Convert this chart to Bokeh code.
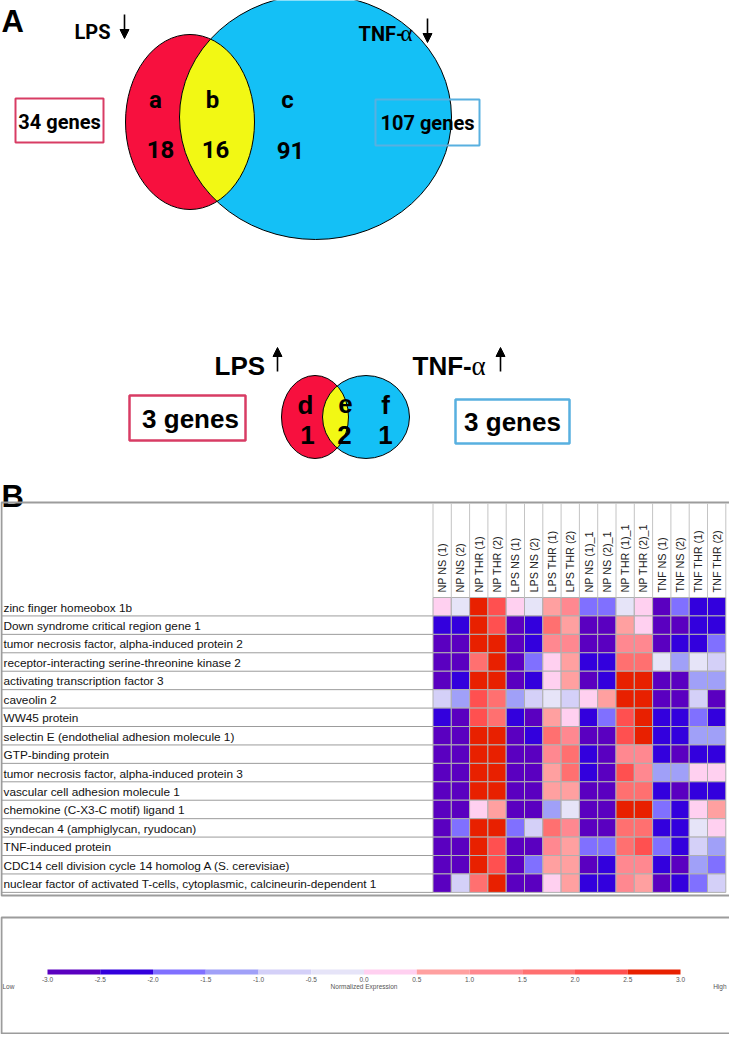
import numpy as np
from bokeh.plotting import figure
from bokeh.models import Range1d, ColumnDataSource, Arrow, NormalHead
from bokeh.core.properties import value
from bokeh.embed import file_html
from bokeh.resources import INLINE

# ---------------- data ----------------
down_regions = ["a", "b", "c"]
down_counts = ["18", "16", "91"]
down_totals = ["34 genes", "107 genes"]
up_regions = ["d", "e", "f"]
up_counts = ["1", "2", "1"]
up_totals = ["3 genes", "3 genes"]

samples = ["NP NS (1)", "NP NS (2)", "NP THR (1)", "NP THR (2)", "LPS NS (1)", "LPS NS (2)",
           "LPS THR (1)", "LPS THR (2)", "NP NS (1)_1", "NP NS (2)_1", "NP THR (1)_1",
           "NP THR (2)_1", "TNF NS (1)", "TNF NS (2)", "TNF THR (1)", "TNF THR (2)"]

genes = ["zinc finger homeobox 1b",
         "Down syndrome critical region gene 1",
         "tumor necrosis factor, alpha-induced protein 2",
         "receptor-interacting serine-threonine kinase 2",
         "activating transcription factor 3",
         "caveolin 2",
         "WW45 protein",
         "selectin E (endothelial adhesion molecule 1)",
         "GTP-binding protein",
         "tumor necrosis factor, alpha-induced protein 3",
         "vascular cell adhesion molecule 1",
         "chemokine (C-X3-C motif) ligand 1",
         "syndecan 4 (amphiglycan, ryudocan)",
         "TNF-induced protein",
         "CDC14 cell division cycle 14 homolog A (S. cerevisiae)",
         "nuclear factor of activated T-cells, cytoplasmic, calcineurin-dependent 1"]

expression = [
    [0.3, -0.3, 2.8, 2.2, 0.3, -0.3, 0.8, 1.2, -1.8, -1.8, -0.3, 0.3, -2.8, -1.8, -2.2, -2.2],
    [-2.2, -2.2, 2.8, 2.2, -2.8, -2.2, 1.8, 0.8, -2.8, -2.8, 0.8, 0.3, -2.8, -2.8, -2.2, -2.2],
    [-2.8, -2.8, 2.8, 2.8, -2.8, -2.2, 1.2, 1.2, -2.8, -2.8, 1.2, 1.2, -2.8, -2.2, -2.2, -1.8],
    [-2.8, -2.8, 1.8, 2.8, -2.8, -1.8, 0.3, 0.8, -2.2, -2.2, 1.8, 1.8, -0.3, -1.2, -0.3, -0.7],
    [-2.8, -2.2, 2.8, 2.8, -2.8, -2.2, 0.3, 0.8, -2.8, -2.2, 2.8, 2.8, -2.8, -2.8, -1.2, -1.2],
    [-0.7, -1.2, 2.2, 1.8, -1.2, -0.7, -0.3, -0.7, 0.3, 0.8, 2.8, 2.8, -2.8, -2.8, -0.7, -2.8],
    [-2.2, -2.8, 2.2, 1.8, -2.2, -2.8, 0.8, 0.3, -2.2, -1.8, 2.2, 2.8, -2.2, -2.2, -1.8, -2.2],
    [-2.8, -2.8, 2.8, 2.8, -2.8, -2.2, 1.8, 1.2, -2.8, -2.8, 2.2, 2.8, -2.2, -2.2, -1.2, -1.2],
    [-2.8, -2.8, 2.8, 2.8, -2.8, -2.8, 1.2, 1.8, -2.2, -2.8, 1.2, 1.2, -2.2, -2.8, -2.2, -2.2],
    [-2.8, -2.8, 2.8, 2.8, -2.8, -2.8, 0.8, 1.8, -2.2, -2.8, 2.2, 1.2, -1.2, -1.2, 0.3, 0.3],
    [-2.8, -2.8, 2.8, 2.8, -2.8, -2.8, 0.8, 0.8, -2.8, -2.8, 1.8, 1.8, -2.2, -2.8, -2.2, -2.2],
    [-2.8, -2.8, 0.3, 0.8, -2.8, -2.8, -1.2, -0.3, -2.8, -2.8, 2.8, 2.8, -1.8, -2.2, 0.3, 0.8],
    [-2.8, -1.8, 2.8, 2.8, -1.8, -0.7, 1.8, 1.2, -2.8, -2.8, 1.8, 1.8, -2.2, -2.2, -0.3, 0.3],
    [-2.8, -2.8, 2.8, 2.2, -2.8, -2.8, 1.2, 0.8, -1.8, -1.8, 1.8, 2.2, -1.8, -2.2, -0.7, -1.2],
    [-2.8, -2.8, 2.8, 2.2, -2.8, -1.8, 0.8, 0.8, -2.8, -2.2, 1.2, 1.2, -2.2, -2.8, -1.2, -1.8],
    [-2.8, -0.7, 1.8, 2.8, -2.8, -2.8, 0.3, 0.8, -2.2, -2.2, 1.2, 0.8, -2.8, -2.2, -1.8, -0.7],
]

scale_edges = [-3.0, -2.5, -2.0, -1.5, -1.0, -0.5, 0.0, 0.5, 1.0, 1.5, 2.0, 2.5, 3.0]
scale_colors = ["#5a00c0", "#3300dd", "#8070ff", "#a0a0f8", "#d4d0f8", "#e6e4f8",
                "#ffd0f0", "#ffa0a0", "#ff8890", "#ff7070", "#ff5050", "#e82000"]
scale_end_labels = ["Low", "High"]
scale_title = "Normalized Expression"

# ---------------- figure (page-pixel coordinates) ----------------
W, H = 729, 1034
p = figure(width=W, height=H, x_range=Range1d(8, 8 + W), y_range=Range1d(8 + H, 8),
           x_axis_type=None, y_axis_type=None, output_backend="svg",
           toolbar_location=None, min_border=0)
p.grid.visible = False
p.outline_line_color = None
p.background_fill_color = "white"
p.border_fill_color = "white"

# heatmap geometry (page px)
HX0, CW = 440.5, 18.3
HY0, RH = 605.0, 18.43
def hx(px):
    return (px - HX0) / CW - 0.5
def hy(py):
    return (py - HY0) / RH - 0.5
# colour-scale geometry
CB0, CBW = 55.0, (688.0 - 55.0) / 6.0
def cbx(px):
    return -3.0 + (px - CB0) / CBW

p.extra_x_ranges = {"hm_x": Range1d(hx(8), hx(8 + W)), "cb_x": Range1d(cbx(8), cbx(8 + W))}
p.extra_y_ranges = {"hm_y": Range1d(hy(8 + H), hy(8))}

RED, YEL, BLU = "#f7103e", "#f2f814", "#14c0f6"
PINKBOX, BLUEBOX = "#d83c64", "#58b0e0"
COND = value("Roboto")
SANS = value("Liberation Sans")

def venn(c1, c2):
    (cx1, cy1, w1, h1), (cx2, cy2, w2, h2) = c1, c2
    p.ellipse(x=[cx1], y=[cy1], width=w1, height=h1, fill_color=RED, line_color=None)
    p.ellipse(x=[cx2], y=[cy2], width=w2, height=h2, fill_color=BLU, line_color=None)
    t = np.linspace(0, 2 * np.pi, 1440, endpoint=False)
    x1 = cx1 + w1 / 2 * np.cos(t); y1 = cy1 + h1 / 2 * np.sin(t)
    x2 = cx2 + w2 / 2 * np.cos(t); y2 = cy2 + h2 / 2 * np.sin(t)
    in1 = ((x2 - cx1) / (w1 / 2)) ** 2 + ((y2 - cy1) / (h1 / 2)) ** 2 <= 1
    in2 = ((x1 - cx2) / (w2 / 2)) ** 2 + ((y1 - cy2) / (h2 / 2)) ** 2 <= 1
    lx = np.concatenate([x1[in2], x2[in1]]); ly = np.concatenate([y1[in2], y2[in1]])
    order = np.argsort(np.arctan2(ly - ly.mean(), lx - lx.mean()))
    p.patch(lx[order], ly[order], fill_color=YEL, line_color=None)
    p.ellipse(x=[cx1, cx2], y=[cy1, cy2], width=[w1, w2], height=[h1, h2],
              fill_color=None, line_color="black", line_width=1)

def txt(x, y, t, size, font=SANS, style="bold", align="center", baseline="middle",
        color="black", **kw):
    p.text(x=x, y=y, text=t, text_font=font, text_font_style=style, text_font_size=size,
           text_align=align, text_baseline=baseline, text_color=color, **kw)

# ---------------- panel A ----------------
txt([9], [29], ["A"], "31px", align="left", baseline="alphabetic")

venn((197.5, 129.5, 129, 175), (323.0, 124.5, 272, 245))
txt([163, 220, 295], [107, 107, 107], down_regions, "24px", font=COND)
txt([168, 223, 298], [157, 157, 158], down_counts, "24px", font=COND)
p.quad(left=[23], right=[111], top=[106], bottom=[150], fill_color=None,
       line_color=PINKBOX, line_width=2)
p.quad(left=[383], right=[487], top=[107], bottom=[153], fill_color=None,
       line_color=BLUEBOX, line_width=2)
txt([67, 435], [129, 130], down_totals, "20px", font=COND)
txt([82], [39], ["LPS"], "20px", font=COND, align="left", baseline="alphabetic")
txt([366], [41], ["TNF-"], "20px", font=COND, align="left", baseline="alphabetic")
txt([408], [41], ["α"], "23px", font=value("Liberation Serif"), style="normal",
    align="left", baseline="alphabetic")
for ax, y0, y1 in [(132, 22, 46), (435, 26, 50)]:
    p.add_layout(Arrow(end=NormalHead(size=9, fill_color="black", line_color="black"),
                       x_start=ax, y_start=y0, x_end=ax, y_end=y1, line_width=1.6))

# small Venn (up-regulated)
venn((322.5, 424.5, 67, 83), (373.5, 424.5, 87, 83))
txt([313, 353, 393], [412, 411, 412], up_regions, "26px")
txt([315, 352, 393], [442, 442, 442], up_counts, "26px")
p.quad(left=[137], right=[253], top=[403], bottom=[448], fill_color=None,
       line_color=PINKBOX, line_width=2.5)
p.quad(left=[463], right=[577], top=[407], bottom=[451], fill_color=None,
       line_color=BLUEBOX, line_width=2.5)
txt([198, 520], [426, 429], up_totals, "26px")
txt([222], [373], ["LPS"], "26px", align="left", baseline="alphabetic")
txt([420], [373], ["TNF-"], "26px", align="left", baseline="alphabetic")
txt([479], [373], ["α"], "27px", font=value("Liberation Serif"), style="normal",
    align="left", baseline="alphabetic")
for ax in [285, 508]:
    p.add_layout(Arrow(end=NormalHead(size=9, fill_color="black", line_color="black"),
                       x_start=ax, y_start=379, x_end=ax, y_end=355, line_width=1.6))

# ---------------- panel B : heatmap ----------------
txt([9], [504], ["B"], "31px", align="left", baseline="alphabetic")
p.quad(left=[9], right=[739], top=[510], bottom=[903], fill_color=None,
       line_color="#9c9c9c", line_width=2)

nr, nc = len(genes), len(samples)
vals = np.array(expression, dtype=float)
bins = np.clip(np.digitize(vals, scale_edges[1:-1]), 0, len(scale_colors) - 1)
rows, cols = np.meshgrid(np.arange(nr), np.arange(nc), indexing="ij")
src = ColumnDataSource(dict(x=cols.ravel(), y=rows.ravel(),
                            c=[scale_colors[b] for b in bins.ravel()]))
p.rect(x="x", y="y", width=1, height=1, fill_color="c", line_color="#b0b0b0",
       line_width=1, source=src, x_range_name="hm_x", y_range_name="hm_y")

# column header dividers and labels
bx = np.arange(nc + 1) - 0.5
p.segment(x0=bx, y0=[hy(511)] * (nc + 1), x1=bx, y1=[-0.5] * (nc + 1),
          line_color="#c4c4c4", line_width=1, x_range_name="hm_x", y_range_name="hm_y")
p.text(x=np.arange(nc), y=[hy(600)] * nc, text=samples, angle=np.pi / 2,
       text_font=SANS, text_font_size="10.8px", text_align="left", text_baseline="middle",
       text_color="#222222", x_range_name="hm_x", y_range_name="hm_y")

# gene labels and row separators
ry = np.arange(nr) + 0.5
p.segment(x0=[hx(9)] * nr, y0=ry, x1=[-0.5] * nr, y1=ry, line_color="#9c9c9c",
          line_width=1, x_range_name="hm_x", y_range_name="hm_y")
p.text(x=[hx(11)] * nr, y=np.arange(nr) + 0.05, text=genes, text_font=SANS,
       text_font_size="11.8px", text_align="left", text_baseline="middle",
       text_color="#111111", x_range_name="hm_x", y_range_name="hm_y")

# ---------------- colour scale panel ----------------
p.quad(left=[9], right=[741], top=[925], bottom=[1041], fill_color=None,
       line_color="#9c9c9c", line_width=2)
p.quad(left=scale_edges[:-1], right=scale_edges[1:], top=[977] * 12, bottom=[982] * 12,
       fill_color=scale_colors, line_color=None, x_range_name="cb_x")
p.text(x=scale_edges, y=[987] * len(scale_edges), text=[f"{e:.1f}" for e in scale_edges],
       text_font=SANS, text_font_size="6.5px", text_align="center", text_baseline="middle",
       text_color="#555555", x_range_name="cb_x")
p.text(x=[0.0], y=[994], text=[scale_title], text_font=SANS,
       text_font_size="6.5px", text_align="center", text_baseline="middle",
       text_color="#555555", x_range_name="cb_x")
p.text(x=[10], y=[994], text=[scale_end_labels[0]], text_font=SANS, text_font_size="6.5px",
       text_align="left", text_baseline="middle", text_color="#555555")
p.text(x=[734], y=[994], text=[scale_end_labels[1]], text_font=SANS, text_font_size="6.5px",
       text_align="right", text_baseline="middle", text_color="#555555")

open("out.html", "w").write(file_html(p, INLINE))
